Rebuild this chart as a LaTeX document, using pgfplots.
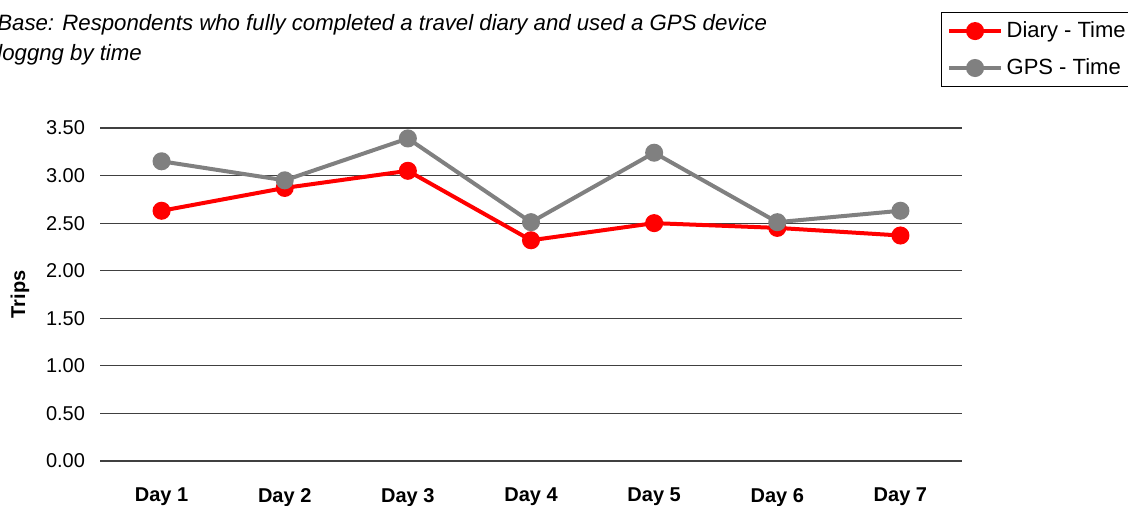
\documentclass[border=0pt]{standalone}
\usepackage{fontspec}
\setmainfont{Liberation Sans}
\usepackage{pgfplots}
\pgfplotsset{compat=1.18}
\definecolor{dred}{RGB}{255,0,0}
\definecolor{dgray}{RGB}{128,128,128}
\begin{document}
\begin{tikzpicture}[x=0.5pt,y=0.5pt]
\useasboundingbox (0,0) rectangle (1128,506);
\node[anchor=base west, inner sep=0pt, font=\itshape\fontsize{11.1}{12}\selectfont] at (-3,475) {Base: Respondents who fully completed a travel diary and used a GPS device};
\node[anchor=base west, inner sep=0pt, font=\itshape\fontsize{11.1}{12}\selectfont] at (-3,445) {loggng by time};
\begin{axis}[
  at={(50pt,22.5pt)}, anchor=south west,
  scale only axis, width=431pt, height=166.5pt,
  xmin=0.5, xmax=7.5, ymin=0, ymax=3.5,
  xtick={1,2,3,4,5,6,7},
  xticklabels={Day 1,Day 2,Day 3,Day 4,Day 5,Day 6,Day 7},
  xticklabel style={font=\bfseries\fontsize{10}{12}\selectfont, yshift=-10pt},
  ytick={0,0.5,1,1.5,2,2.5,3,3.5},
  yticklabel style={font=\fontsize{10}{12}\selectfont, xshift=-4pt},
  /pgf/number format/assume math mode=true,
  yticklabel={\pgfmathprintnumber[fixed,fixed zerofill,precision=2]{\tick}},
  ymajorgrids, grid style={black!75, line width=0.6pt},
  axis line style={draw=none},
  major tick style={draw=none},
  ylabel={Trips},
  ylabel style={font=\bfseries\fontsize{10}{12}\selectfont, at={(axis description cs:-0.0928,0.5)}, anchor=center},
  clip=false,
  legend style={at={(axis description cs:0.9756,1.348)}, anchor=north west, draw=black, line width=0.5pt,
    font=\fontsize{11}{12}\selectfont, row sep=5pt, inner xsep=3pt, inner ysep=2.5pt},
  legend cell align=left,
  legend image code/.code={\draw[mark repeat=2,mark phase=2] plot coordinates {(0cm,0cm) (0.45cm,0cm) (0.9cm,0cm)};},
]
\addplot[dred, line width=2pt, mark=*, mark size=3.5pt] coordinates {
(1,2.63) (2,2.87) (3,3.05) (4,2.32) (5,2.50) (6,2.45) (7,2.37)};
\addlegendentry{Diary - Time}
\addplot[dgray, line width=2pt, mark=*, mark size=3.5pt] coordinates {
(1,3.15) (2,2.95) (3,3.39) (4,2.51) (5,3.24) (6,2.51) (7,2.63)};
\addlegendentry{GPS - Time}
\end{axis}
\end{tikzpicture}
\end{document}
